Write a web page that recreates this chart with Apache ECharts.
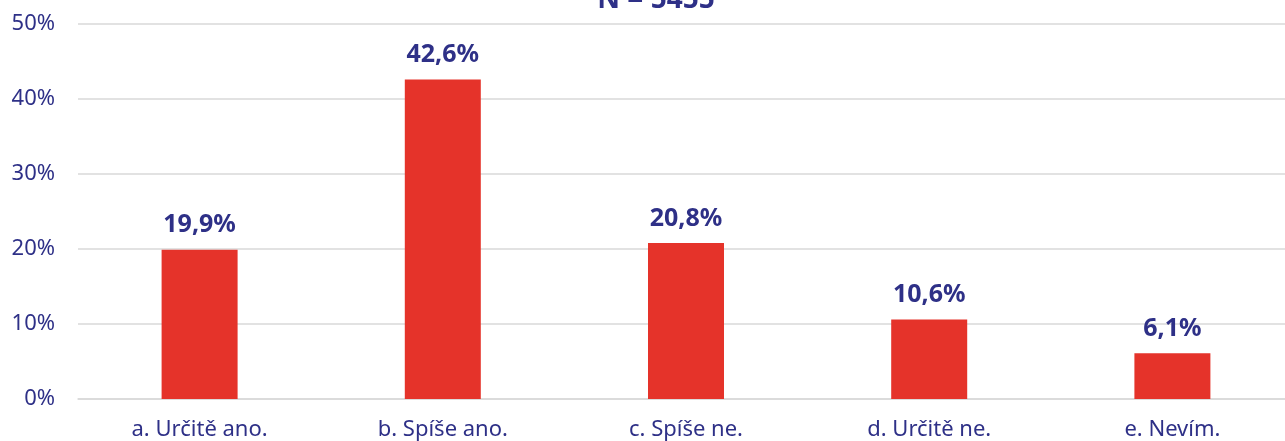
<!DOCTYPE html>
<html><head><meta charset="utf-8">
<script src="https://cdn.jsdelivr.net/npm/echarts@6/dist/echarts.min.js"></script>
<style>html,body{margin:0;padding:0;background:#fff}#c{width:1285px;height:441px}</style>
</head><body><div id="c"></div>
<script>
const categories = ["a. Určitě ano.", "b. Spíše ano.", "c. Spíše ne.", "d. Určitě ne.", "e. Nevím."];
const values = [19.9, 42.6, 20.8, 10.6, 6.1];
const titleText = "N = 5455";
const navy = "#2E3087";
const chart = echarts.init(document.getElementById('c'));
chart.setOption({
  animation: false,
  title: {text: titleText, left: 651, top: -19, textAlign: 'center',
    textStyle: {fontFamily: 'Noto Sans', fontWeight: 'bold', fontSize: 28, color: navy}},
  grid: {left: 78, width: 1216, top: 24, bottom: 42, outerBoundsMode: 'none', containLabel: false},
  xAxis: {type: 'category', data: categories,
    axisLine: {show: true, lineStyle: {color: '#d9d9d9', width: 1.5}},
    axisTick: {show: false},
    axisLabel: {fontFamily: 'Noto Sans', fontSize: 22, color: navy, margin: 20}},
  yAxis: {type: 'value', min: 0, max: 50, interval: 10,
    axisLabel: {formatter: '{value}%', fontFamily: 'Noto Sans', fontSize: 22, color: navy, margin: 23}},
  series: [{type: 'bar', data: values, barWidth: 76,
    itemStyle: {color: '#E5332A'},
    label: {show: true, position: 'top', distance: 12,
      formatter: p => p.value.toFixed(1).replace('.', ',') + '%',
      fontFamily: 'Noto Sans', fontWeight: 'bold', fontSize: 25, color: navy}}]
});
chart.setOption({yAxis: {splitLine: {lineStyle: {color: '#d9d9d9', width: 1.5}}, axisLine: {show: false}, axisTick: {show: false}}});
</script></body></html>
